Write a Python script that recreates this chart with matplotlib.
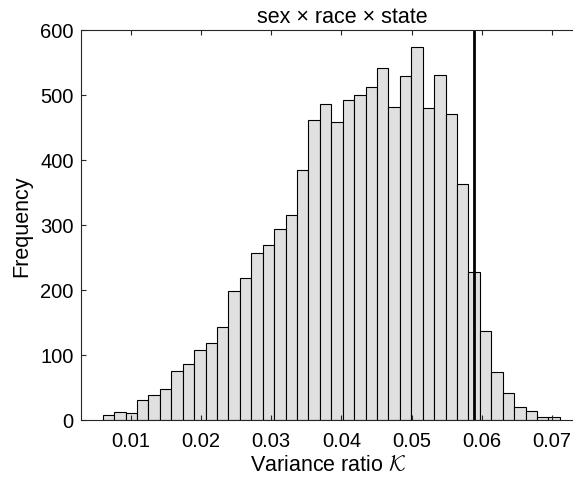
import numpy as np
import matplotlib
matplotlib.use("Agg")
import matplotlib.pyplot as plt

plt.rcParams['font.family'] = ['Liberation Sans', 'DejaVu Sans']
plt.rcParams['mathtext.fontset'] = 'cm'

# histogram counts (40 bins)
counts = [7, 12, 10, 31, 38, 47, 75, 86, 107, 118,
          142, 198, 218, 256, 269, 294, 315, 385, 461, 486,
          458, 492, 500, 513, 542, 482, 529, 574, 480, 530,
          470, 363, 228, 136, 73, 41, 19, 13, 4, 4]
bin_start = 0.00596
bin_width = 0.00163
observed = 0.0589
xticks = [0.01, 0.02, 0.03, 0.04, 0.05, 0.06, 0.07]
yticks = [0, 100, 200, 300, 400, 500, 600]

edges = bin_start + bin_width * np.arange(len(counts) + 1)

fig = plt.figure(figsize=(5.73, 4.81), dpi=100)
# axes runs past the right edge of the picture, as in the reference
ax = fig.add_axes([80.7 / 573, 60.3 / 481, (576 - 80.7) / 573, 389.7 / 481])

ax.bar(edges[:-1], counts, width=bin_width, align='edge',
       color='#e0e0e0', edgecolor='black', linewidth=0.8)
ax.axvline(observed, color='black', linewidth=2)

ax.set_xlim(0.00282, 0.07346)
ax.set_ylim(0, 600)
ax.set_xticks(xticks)
ax.set_xticklabels([f"{t:.2f}" for t in xticks])
ax.set_yticks(yticks)
ax.tick_params(direction='in', length=3.6, width=0.8, labelsize=14.5,
               top=True, right=False, colors='#262626', labelcolor='black')
ax.tick_params(axis='x', pad=8)
ax.tick_params(axis='y', pad=5)
for s in ax.spines.values():
    s.set_linewidth(0.8)
    s.set_color('#262626')

ax.set_xlabel(r'Variance ratio $\mathcal{K}$', fontsize=15.5, labelpad=3)
ax.set_ylabel('Frequency', fontsize=15.5, labelpad=6)
ax.set_title('sex × race × state', fontsize=15.5, x=0.528, pad=6)

fig.savefig('out.png', dpi=100)
